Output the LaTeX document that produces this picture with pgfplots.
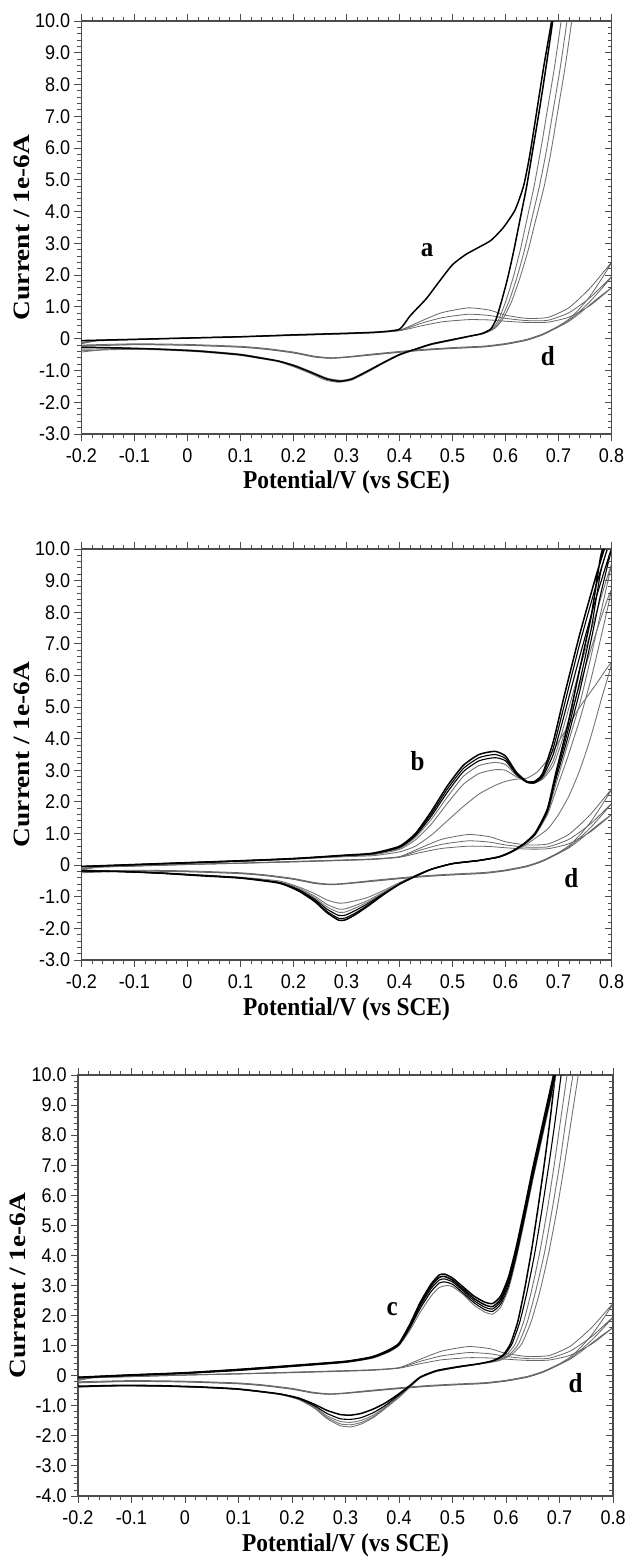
\documentclass[border=0pt]{standalone}
\usepackage{fontspec}
\setmainfont{Liberation Sans}
\newfontfamily\tnr{Liberation Serif}
\usepackage{graphicx}
\usepackage{pgfplots}
\usepackage{pgfplotstable}
\pgfplotsset{compat=1.18}

\newcommand\tk[1]{\scalebox{1}[1.1]{\fontsize{9}{10}\selectfont #1}}
\newcommand\lab[1]{{\fontsize{11.7}{13}\selectfont\tnr\bfseries #1}}
\newcommand\cl[1]{\scalebox{1}[1.1]{\fontsize{12.5}{14}\selectfont\tnr\bfseries #1}}

% ---------- curve d (same reference curve in every panel) ----------
\pgfplotstableread{
x y
-0.2 -0.12
-0.17 -0.05
-0.1 -0.02
0.0 0.03
0.1 0.07
0.2 0.12
0.3 0.17
0.35 0.2
0.4 0.27
0.44 0.55
0.48 0.82
0.53 0.97
0.57 0.9
0.6 0.74
0.64 0.64
0.68 0.67
0.72 0.98
0.76 1.6
0.8 2.4
0.78 1.85
0.76 1.35
0.74 0.95
0.72 0.62
0.7 0.4
0.67 0.15
0.64 -0.02
0.6 -0.15
0.56 -0.23
0.5 -0.28
0.45 -0.33
0.4 -0.4
0.35 -0.48
0.3 -0.57
0.27 -0.6
0.24 -0.55
0.2 -0.42
0.15 -0.31
0.1 -0.24
0.0 -0.18
-0.1 -0.16
-0.2 -0.2
}\dA
\pgfplotstableread{
x y
-0.2 -0.14
-0.17 -0.06
-0.1 -0.03
0.0 0.02
0.1 0.06
0.2 0.11
0.3 0.16
0.35 0.19
0.4 0.26
0.44 0.48
0.48 0.66
0.53 0.77
0.57 0.73
0.6 0.64
0.64 0.57
0.68 0.58
0.72 0.82
0.76 1.3
0.8 1.95
0.78 1.55
0.76 1.18
0.74 0.86
0.72 0.58
0.7 0.38
0.67 0.13
0.64 -0.04
0.6 -0.17
0.56 -0.25
0.5 -0.3
0.45 -0.35
0.4 -0.42
0.35 -0.5
0.3 -0.58
0.27 -0.61
0.24 -0.57
0.2 -0.44
0.15 -0.33
0.1 -0.26
0.0 -0.2
-0.1 -0.18
-0.2 -0.22
}\dB
\pgfplotstableread{
x y
-0.2 -0.16
-0.17 -0.07
-0.1 -0.03
0.0 0.02
0.1 0.06
0.2 0.1
0.3 0.15
0.35 0.18
0.4 0.25
0.44 0.4
0.48 0.53
0.53 0.6
0.57 0.59
0.6 0.55
0.64 0.51
0.68 0.52
0.72 0.68
0.76 1.05
0.8 1.6
0.78 1.35
0.76 1.08
0.74 0.8
0.72 0.55
0.7 0.37
0.67 0.12
0.64 -0.05
0.6 -0.18
0.56 -0.26
0.5 -0.31
0.45 -0.36
0.4 -0.43
0.35 -0.51
0.3 -0.59
0.27 -0.62
0.24 -0.58
0.2 -0.45
0.15 -0.34
0.1 -0.27
0.0 -0.21
-0.1 -0.19
-0.2 -0.24
}\dC

% ---------- panel 1 : curve a ----------
\pgfplotstableread{
x y
-0.2 -0.06
-0.1 -0.02
0.0 0.02
0.1 0.06
0.2 0.12
0.3 0.17
0.36 0.21
0.4 0.3
0.42 0.72
0.45 1.25
0.475 1.8
0.5 2.33
0.525 2.65
0.55 2.88
0.573 3.1
0.596 3.5
0.618 4.05
0.634 4.8
0.645 5.7
0.657 6.95
0.672 8.55
0.687 10.0
0.697 11.2
}\aF
\pgfplotstableread{
x y
0.697 11.2
0.689 10.0
0.676 8.5
0.664 7.2
0.651 5.9
0.64 4.8
0.628 3.8
0.616 2.8
0.604 1.9
0.592 1.15
0.582 0.6
0.572 0.3
0.555 0.16
0.535 0.09
0.5 -0.03
0.46 -0.17
0.43 -0.33
0.4 -0.5
0.37 -0.75
0.34 -1.02
0.31 -1.27
0.287 -1.34
0.263 -1.27
0.233 -1.06
0.203 -0.86
0.173 -0.71
0.135 -0.6
0.097 -0.5
0.02 -0.39
-0.054 -0.33
-0.13 -0.29
-0.2 -0.27
}\aRa
\pgfplotstableread{
x y
0.714 11.2
0.705 10.0
0.692 8.5
0.679 7.2
0.666 5.9
0.654 4.8
0.641 3.8
0.628 2.8
0.614 1.9
0.6 1.15
0.587 0.6
0.575 0.3
0.556 0.15
0.535 0.08
0.5 -0.05
0.46 -0.19
0.43 -0.35
0.4 -0.52
0.37 -0.77
0.34 -1.05
0.31 -1.3
0.285 -1.37
0.26 -1.3
0.23 -1.08
0.2 -0.88
0.17 -0.72
0.135 -0.62
0.097 -0.52
0.02 -0.41
-0.054 -0.35
-0.13 -0.32
-0.2 -0.33
}\aRb
\pgfplotstableread{
x y
0.725 11.2
0.716 10.0
0.703 8.5
0.69 7.2
0.677 5.9
0.664 4.8
0.65 3.8
0.636 2.8
0.621 1.9
0.606 1.15
0.591 0.6
0.578 0.32
0.558 0.16
0.535 0.08
0.5 -0.04
0.46 -0.18
0.43 -0.34
0.4 -0.51
0.37 -0.76
0.34 -1.03
0.31 -1.28
0.283 -1.32
0.26 -1.25
0.23 -1.04
0.2 -0.84
0.17 -0.7
0.135 -0.59
0.097 -0.49
0.02 -0.38
-0.054 -0.34
-0.13 -0.34
-0.2 -0.38
}\aRc
\pgfplotstableread{
x y
0.734 11.2
0.725 10.0
0.712 8.5
0.699 7.2
0.686 5.9
0.673 4.8
0.658 3.8
0.643 2.8
0.627 1.9
0.611 1.15
0.595 0.62
0.58 0.33
0.56 0.17
0.535 0.09
0.5 -0.02
0.46 -0.16
0.43 -0.32
0.4 -0.49
0.37 -0.74
0.34 -1.0
0.31 -1.25
0.29 -1.31
0.265 -1.25
0.235 -1.05
0.205 -0.85
0.17 -0.69
0.135 -0.58
0.097 -0.48
0.02 -0.37
-0.054 -0.32
-0.13 -0.3
-0.2 -0.42
}\aRd

% ---------- panel 2 : curve b (cycles 1..6) ----------
\pgfplotstableread{
x y
-0.2 -0.05
-0.1 0.0
0.0 0.06
0.1 0.12
0.2 0.19
0.3 0.27
0.35 0.3
0.4 0.42
0.43 0.6
0.46 0.95
0.49 1.4
0.52 1.85
0.55 2.25
0.58 2.52
0.6 2.65
0.62 2.72
0.64 2.75
0.66 2.95
0.68 3.35
0.7 3.9
0.72 4.45
0.74 5.0
0.77 5.7
0.8 6.4
0.78 5.2
0.76 4.0
0.74 3.0
0.72 2.2
0.7 1.6
0.68 1.15
0.656 0.85
0.634 0.6
0.611 0.4
0.588 0.25
0.55 0.14
0.5 0.04
0.46 -0.12
0.43 -0.32
0.4 -0.55
0.37 -0.8
0.34 -1.02
0.316 -1.13
0.298 -1.19
0.285 -1.2
0.263 -1.1
0.24 -0.9
0.21 -0.69
0.173 -0.5
0.1 -0.38
0.02 -0.3
-0.054 -0.23
-0.13 -0.18
-0.2 -0.16
}\bA
\pgfplotstableread{
x y
-0.2 -0.06
-0.1 0.0
0.0 0.06
0.1 0.12
0.2 0.19
0.3 0.29
0.35 0.33
0.4 0.5
0.43 0.8
0.46 1.3
0.49 1.95
0.52 2.55
0.55 2.9
0.58 3.02
0.6 3.0
0.62 2.8
0.64 2.65
0.655 2.62
0.67 2.72
0.69 3.15
0.71 4.1
0.74 5.7
0.77 7.3
0.79 8.3
0.8 8.7
0.78 7.2
0.76 5.8
0.74 4.6
0.717 3.4
0.694 2.3
0.679 1.6
0.656 0.95
0.634 0.64
0.611 0.41
0.588 0.25
0.55 0.14
0.5 0.04
0.46 -0.13
0.43 -0.34
0.4 -0.58
0.37 -0.85
0.34 -1.12
0.316 -1.28
0.298 -1.38
0.285 -1.39
0.263 -1.24
0.24 -0.98
0.21 -0.73
0.173 -0.53
0.1 -0.39
0.02 -0.31
-0.054 -0.24
-0.13 -0.19
-0.2 -0.17
}\bB
\pgfplotstableread{
x y
-0.2 -0.05
-0.1 0.01
0.0 0.07
0.1 0.13
0.2 0.2
0.3 0.3
0.35 0.35
0.4 0.53
0.43 0.88
0.46 1.45
0.49 2.15
0.52 2.8
0.55 3.15
0.58 3.25
0.6 3.18
0.62 2.85
0.64 2.62
0.655 2.6
0.67 2.75
0.69 3.3
0.71 4.4
0.74 6.2
0.77 7.9
0.79 9.0
0.8 9.5
0.78 8.0
0.76 6.5
0.74 5.1
0.717 3.8
0.694 2.5
0.679 1.65
0.656 0.97
0.634 0.65
0.611 0.41
0.588 0.26
0.55 0.15
0.5 0.05
0.46 -0.13
0.43 -0.34
0.4 -0.59
0.37 -0.88
0.34 -1.17
0.316 -1.36
0.298 -1.48
0.285 -1.49
0.263 -1.32
0.24 -1.03
0.21 -0.76
0.173 -0.54
0.1 -0.4
0.02 -0.32
-0.054 -0.25
-0.13 -0.2
-0.2 -0.17
}\bC
\pgfplotstableread{
x y
-0.2 -0.05
-0.1 0.01
0.0 0.07
0.1 0.13
0.2 0.2
0.3 0.31
0.35 0.36
0.4 0.56
0.43 0.93
0.46 1.55
0.49 2.3
0.52 2.95
0.55 3.3
0.58 3.4
0.6 3.3
0.62 2.88
0.64 2.62
0.655 2.6
0.67 2.8
0.69 3.5
0.71 4.7
0.74 6.6
0.77 8.4
0.79 9.5
0.8 10.0
0.78 8.6
0.76 7.0
0.74 5.5
0.717 4.0
0.694 2.65
0.679 1.7
0.656 0.98
0.634 0.66
0.611 0.42
0.588 0.26
0.55 0.15
0.5 0.05
0.46 -0.13
0.43 -0.35
0.4 -0.6
0.37 -0.9
0.34 -1.22
0.316 -1.44
0.298 -1.58
0.285 -1.59
0.263 -1.39
0.24 -1.08
0.21 -0.78
0.173 -0.55
0.1 -0.4
0.02 -0.32
-0.054 -0.25
-0.13 -0.2
-0.2 -0.18
}\bD
\pgfplotstableread{
x y
-0.2 -0.04
-0.1 0.02
0.0 0.08
0.1 0.14
0.2 0.21
0.3 0.31
0.35 0.37
0.4 0.58
0.43 0.97
0.46 1.62
0.49 2.4
0.52 3.05
0.55 3.4
0.58 3.5
0.6 3.37
0.62 2.92
0.64 2.63
0.655 2.62
0.67 2.85
0.69 3.7
0.71 5.0
0.74 7.0
0.77 8.8
0.79 9.9
0.8 10.4
0.78 9.3
0.762 7.5
0.74 5.8
0.717 4.2
0.694 2.75
0.679 1.72
0.656 1.0
0.634 0.66
0.611 0.42
0.588 0.26
0.55 0.15
0.5 0.05
0.46 -0.13
0.43 -0.35
0.4 -0.6
0.37 -0.92
0.34 -1.27
0.316 -1.52
0.298 -1.67
0.285 -1.68
0.263 -1.46
0.24 -1.12
0.21 -0.8
0.173 -0.56
0.1 -0.4
0.02 -0.32
-0.054 -0.25
-0.13 -0.2
-0.2 -0.18
}\bE
\pgfplotstableread{
x y
-0.2 -0.04
-0.1 0.02
0.0 0.08
0.1 0.14
0.2 0.21
0.3 0.32
0.35 0.38
0.4 0.6
0.43 1.0
0.46 1.7
0.49 2.5
0.52 3.15
0.55 3.5
0.58 3.6
0.6 3.45
0.62 2.95
0.64 2.65
0.655 2.65
0.67 2.9
0.69 3.9
0.71 5.3
0.74 7.3
0.77 9.1
0.79 10.2
0.8 10.8
0.78 9.8
0.762 7.9
0.74 6.2
0.717 4.4
0.694 2.85
0.679 1.78
0.656 1.02
0.634 0.67
0.611 0.43
0.588 0.27
0.55 0.15
0.5 0.05
0.46 -0.13
0.43 -0.35
0.4 -0.6
0.37 -0.93
0.34 -1.3
0.316 -1.57
0.298 -1.73
0.285 -1.74
0.263 -1.5
0.24 -1.15
0.21 -0.82
0.173 -0.57
0.1 -0.41
0.02 -0.33
-0.054 -0.25
-0.13 -0.2
-0.2 -0.18
}\bF

% ---------- panel 3 : curve c (forward, cycles 1..5) ----------
\pgfplotstableread{
x y
-0.2 -0.08
-0.1 0.0
0.0 0.07
0.1 0.17
0.2 0.3
0.3 0.44
0.35 0.58
0.38 0.78
0.4 1.0
0.42 1.5
0.44 2.12
0.46 2.65
0.475 2.93
0.49 3.0
0.5 2.96
0.52 2.7
0.54 2.35
0.56 2.12
0.575 2.05
0.59 2.28
0.605 2.9
0.62 3.95
0.635 5.2
0.65 6.5
0.665 7.7
0.68 8.9
0.69 9.7
0.7 10.6
}\cFa
\pgfplotstableread{
x y
-0.2 -0.07
-0.1 0.01
0.0 0.08
0.1 0.18
0.2 0.31
0.3 0.45
0.35 0.6
0.38 0.8
0.4 1.03
0.42 1.58
0.44 2.25
0.46 2.8
0.475 3.08
0.485 3.12
0.5 3.04
0.52 2.75
0.54 2.43
0.56 2.2
0.575 2.14
0.59 2.38
0.605 3.0
0.62 4.05
0.635 5.3
0.65 6.6
0.665 7.8
0.68 9.0
0.69 9.8
0.7 10.7
}\cFb
\pgfplotstableread{
x y
-0.2 -0.06
-0.1 0.02
0.0 0.09
0.1 0.19
0.2 0.32
0.3 0.46
0.35 0.61
0.38 0.82
0.4 1.05
0.42 1.63
0.44 2.33
0.46 2.9
0.475 3.18
0.485 3.22
0.5 3.12
0.52 2.82
0.54 2.5
0.56 2.28
0.575 2.22
0.59 2.47
0.605 3.1
0.62 4.15
0.635 5.4
0.65 6.7
0.665 7.9
0.68 9.1
0.69 9.9
0.7 10.8
}\cFc
\pgfplotstableread{
x y
-0.2 -0.06
-0.1 0.02
0.0 0.09
0.1 0.2
0.2 0.33
0.3 0.47
0.35 0.62
0.38 0.83
0.4 1.06
0.42 1.67
0.44 2.4
0.46 2.98
0.475 3.27
0.485 3.3
0.5 3.18
0.52 2.88
0.54 2.57
0.56 2.36
0.575 2.3
0.59 2.55
0.605 3.2
0.62 4.25
0.635 5.5
0.65 6.8
0.665 8.0
0.68 9.2
0.69 10.0
0.7 10.9
}\cFd
\pgfplotstableread{
x y
-0.2 -0.05
-0.1 0.03
0.0 0.1
0.1 0.21
0.2 0.34
0.3 0.48
0.35 0.63
0.38 0.85
0.4 1.08
0.42 1.7
0.44 2.45
0.46 3.05
0.475 3.35
0.485 3.38
0.5 3.25
0.52 2.95
0.54 2.65
0.56 2.45
0.575 2.4
0.59 2.65
0.605 3.3
0.62 4.35
0.635 5.6
0.65 6.9
0.665 8.1
0.68 9.3
0.69 10.1
0.7 11.0
}\cFe
% ---------- panel 3 : curve c (reverse sweeps) ----------
\pgfplotstableread{
x y
0.7 11.2
0.692 10.0
0.683 8.6
0.672 7.1
0.66 5.6
0.648 4.2
0.635 2.9
0.622 1.8
0.608 1.05
0.594 0.68
0.575 0.5
0.55 0.4
0.51 0.3
0.47 0.17
0.44 -0.04
0.42 -0.33
0.4 -0.6
0.375 -0.9
0.353 -1.1
0.33 -1.25
0.31 -1.31
0.29 -1.29
0.265 -1.15
0.242 -0.95
0.212 -0.74
0.175 -0.6
0.1 -0.44
0.027 -0.37
-0.05 -0.33
-0.12 -0.32
-0.2 -0.35
}\cRa
\pgfplotstableread{
x y
0.711 11.2
0.703 10.0
0.692 8.5
0.68 7.0
0.667 5.5
0.654 4.1
0.64 2.85
0.626 1.8
0.611 1.05
0.596 0.68
0.577 0.5
0.55 0.4
0.51 0.29
0.47 0.16
0.44 -0.05
0.42 -0.35
0.4 -0.64
0.375 -0.98
0.353 -1.22
0.33 -1.39
0.31 -1.45
0.29 -1.43
0.265 -1.25
0.242 -1.0
0.212 -0.76
0.175 -0.6
0.1 -0.45
0.027 -0.38
-0.05 -0.34
-0.12 -0.33
-0.2 -0.36
}\cRb
\pgfplotstableread{
x y
0.722 11.2
0.714 10.0
0.702 8.5
0.69 7.0
0.677 5.5
0.663 4.1
0.648 2.85
0.633 1.8
0.617 1.05
0.6 0.68
0.58 0.5
0.55 0.39
0.51 0.28
0.47 0.15
0.44 -0.06
0.42 -0.37
0.4 -0.68
0.375 -1.03
0.353 -1.3
0.33 -1.48
0.31 -1.55
0.29 -1.52
0.265 -1.33
0.242 -1.03
0.212 -0.77
0.175 -0.61
0.1 -0.45
0.027 -0.38
-0.05 -0.34
-0.12 -0.33
-0.2 -0.37
}\cRc
\pgfplotstableread{
x y
0.733 11.2
0.725 10.0
0.712 8.5
0.7 7.0
0.686 5.5
0.672 4.1
0.656 2.85
0.64 1.8
0.623 1.05
0.605 0.68
0.583 0.5
0.55 0.39
0.51 0.28
0.47 0.15
0.44 -0.06
0.42 -0.38
0.4 -0.7
0.375 -1.06
0.353 -1.35
0.33 -1.55
0.31 -1.63
0.29 -1.6
0.265 -1.38
0.242 -1.06
0.212 -0.78
0.175 -0.61
0.1 -0.45
0.027 -0.38
-0.05 -0.34
-0.12 -0.33
-0.2 -0.37
}\cRd
\pgfplotstableread{
x y
0.743 11.2
0.735 10.0
0.722 8.5
0.709 7.0
0.695 5.5
0.68 4.1
0.664 2.85
0.647 1.8
0.629 1.05
0.61 0.7
0.587 0.5
0.55 0.39
0.51 0.28
0.47 0.14
0.44 -0.07
0.42 -0.39
0.4 -0.72
0.375 -1.08
0.353 -1.38
0.33 -1.6
0.31 -1.7
0.29 -1.66
0.265 -1.42
0.242 -1.08
0.212 -0.79
0.175 -0.62
0.1 -0.46
0.027 -0.39
-0.05 -0.35
-0.12 -0.34
-0.2 -0.38
}\cRe

\pgfplotsset{
  cvbase/.style={
    scale only axis, anchor=south west,
    xmin=-0.2, xmax=0.8, ymax=10,
    xtick={-0.2,-0.1,0,0.1,0.2,0.3,0.4,0.5,0.6,0.7,0.8},
    minor x tick num=4, minor y tick num=4,
    major tick length=3.5pt, minor tick length=2pt,
    axis line style={black!70, line width=0.55pt},
    every tick/.style={black!70, line width=0.5pt},
  },
  cvaxis/.style={
    cvbase,
    tick align=outside, ytick pos=left,
    xticklabels={\tk{-0.2},\tk{-0.1},\tk{0},\tk{0.1},\tk{0.2},\tk{0.3},\tk{0.4},\tk{0.5},\tk{0.6},\tk{0.7},\tk{0.8}},
    xticklabel style={inner sep=2pt, yshift=-1.5pt},
    yticklabel style={inner sep=2pt},
    xlabel={\scalebox{1}[1.1]{\lab{Potential/V (vs SCE)}}},
    ylabel={\scalebox{1.17}[1]{\lab{Current / 1e-6A}}},
    ylabel style={at={(axis description cs:-0.112,0.5)}, anchor=center},
    every axis plot/.append style={smooth, tension=0.35, line join=round},
  },
  rt/.style={cvbase, hide x axis, axis y line*=right, tick align=inside, yticklabels={}},
  dline/.style={black!60, line width=0.4pt},
  kline/.style={black, line width=0.75pt},
  gline/.style={black!55, line width=0.45pt},
}

\begin{document}
\begin{tikzpicture}
\useasboundingbox (0,0) rectangle (312.5pt,-779pt);

% ================= panel 1 =================
\begin{axis}[cvaxis, at={(40.75pt,-217pt)}, width=265pt, height=206.5pt,
  ymin=-3, ytick={-3,-2,-1,0,1,2,3,4,5,6,7,8,9,10},
  yticklabels={\tk{-3.0},\tk{-2.0},\tk{-1.0},\tk{0},\tk{1.0},\tk{2.0},\tk{3.0},\tk{4.0},\tk{5.0},\tk{6.0},\tk{7.0},\tk{8.0},\tk{9.0},\tk{10.0}},
  xlabel style={at={(axis description cs:0.5,-0.118)}, anchor=center}]
\addplot[dline] table {\dA};
\addplot[dline] table {\dB};
\addplot[dline] table {\dC};
\addplot[gline] table {\aRd};
\addplot[gline] table {\aRc};
\addplot[gline] table {\aRb};
\addplot[kline] table {\aRa};
\addplot[kline] table {\aF};
\node at (axis cs:0.452,2.8) {\cl{a}};
\node at (axis cs:0.68,-0.55) {\cl{d}};
\end{axis}
\begin{axis}[rt, at={(40.75pt,-217pt)}, width=265pt, height=206.5pt,
  ymin=-3, ytick={-3,-2,-1,0,1,2,3,4,5,6,7,8,9,10}]
\end{axis}

% ================= panel 2 =================
\begin{axis}[cvaxis, at={(40.75pt,-480pt)}, width=265pt, height=205.5pt,
  ymin=-3, ytick={-3,-2,-1,0,1,2,3,4,5,6,7,8,9,10},
  yticklabels={\tk{-3.0},\tk{-2.0},\tk{-1.0},\tk{0},\tk{1.0},\tk{2.0},\tk{3.0},\tk{4.0},\tk{5.0},\tk{6.0},\tk{7.0},\tk{8.0},\tk{9.0},\tk{10.0}},
  xlabel style={at={(axis description cs:0.5,-0.119)}, anchor=center}]
\addplot[dline] table {\dA};
\addplot[dline] table {\dB};
\addplot[dline] table {\dC};
\addplot[gline] table {\bA};
\addplot[gline] table {\bB};
\addplot[gline] table {\bC};
\addplot[kline, line width=0.55pt] table {\bD};
\addplot[kline, line width=0.55pt] table {\bE};
\addplot[kline] table {\bF};
\node at (axis cs:0.434,3.3) {\cl{b}};
\node at (axis cs:0.724,-0.4) {\cl{d}};
\end{axis}
\begin{axis}[rt, at={(40.75pt,-480pt)}, width=265pt, height=205.5pt,
  ymin=-3, ytick={-3,-2,-1,0,1,2,3,4,5,6,7,8,9,10}]
\end{axis}

% ================= panel 3 =================
\begin{axis}[cvaxis, at={(39pt,-748pt)}, width=267.5pt, height=210.5pt,
  ymin=-4, ytick={-4,-3,-2,-1,0,1,2,3,4,5,6,7,8,9,10},
  yticklabels={\tk{-4.0},\tk{-3.0},\tk{-2.0},\tk{-1.0},\tk{0},\tk{1.0},\tk{2.0},\tk{3.0},\tk{4.0},\tk{5.0},\tk{6.0},\tk{7.0},\tk{8.0},\tk{9.0},\tk{10.0}},
  xlabel style={at={(axis description cs:0.5,-0.117)}, anchor=center}]
\addplot[dline] table {\dA};
\addplot[dline] table {\dB};
\addplot[dline] table {\dC};
\addplot[gline] table {\cRe};
\addplot[gline] table {\cRd};
\addplot[gline] table {\cRc};
\addplot[kline, line width=0.55pt] table {\cRb};
\addplot[kline] table {\cRa};
\addplot[gline] table {\cFa};
\addplot[kline, line width=0.55pt] table {\cFb};
\addplot[kline, line width=0.55pt] table {\cFc};
\addplot[kline] table {\cFd};
\addplot[kline] table {\cFe};
\node at (axis cs:0.387,2.2) {\cl{c}};
\node at (axis cs:0.73,-0.23) {\cl{d}};
\end{axis}
\begin{axis}[rt, at={(39pt,-748pt)}, width=267.5pt, height=210.5pt,
  ymin=-4, ytick={-4,-3,-2,-1,0,1,2,3,4,5,6,7,8,9,10}]
\end{axis}
\end{tikzpicture}
\end{document}
